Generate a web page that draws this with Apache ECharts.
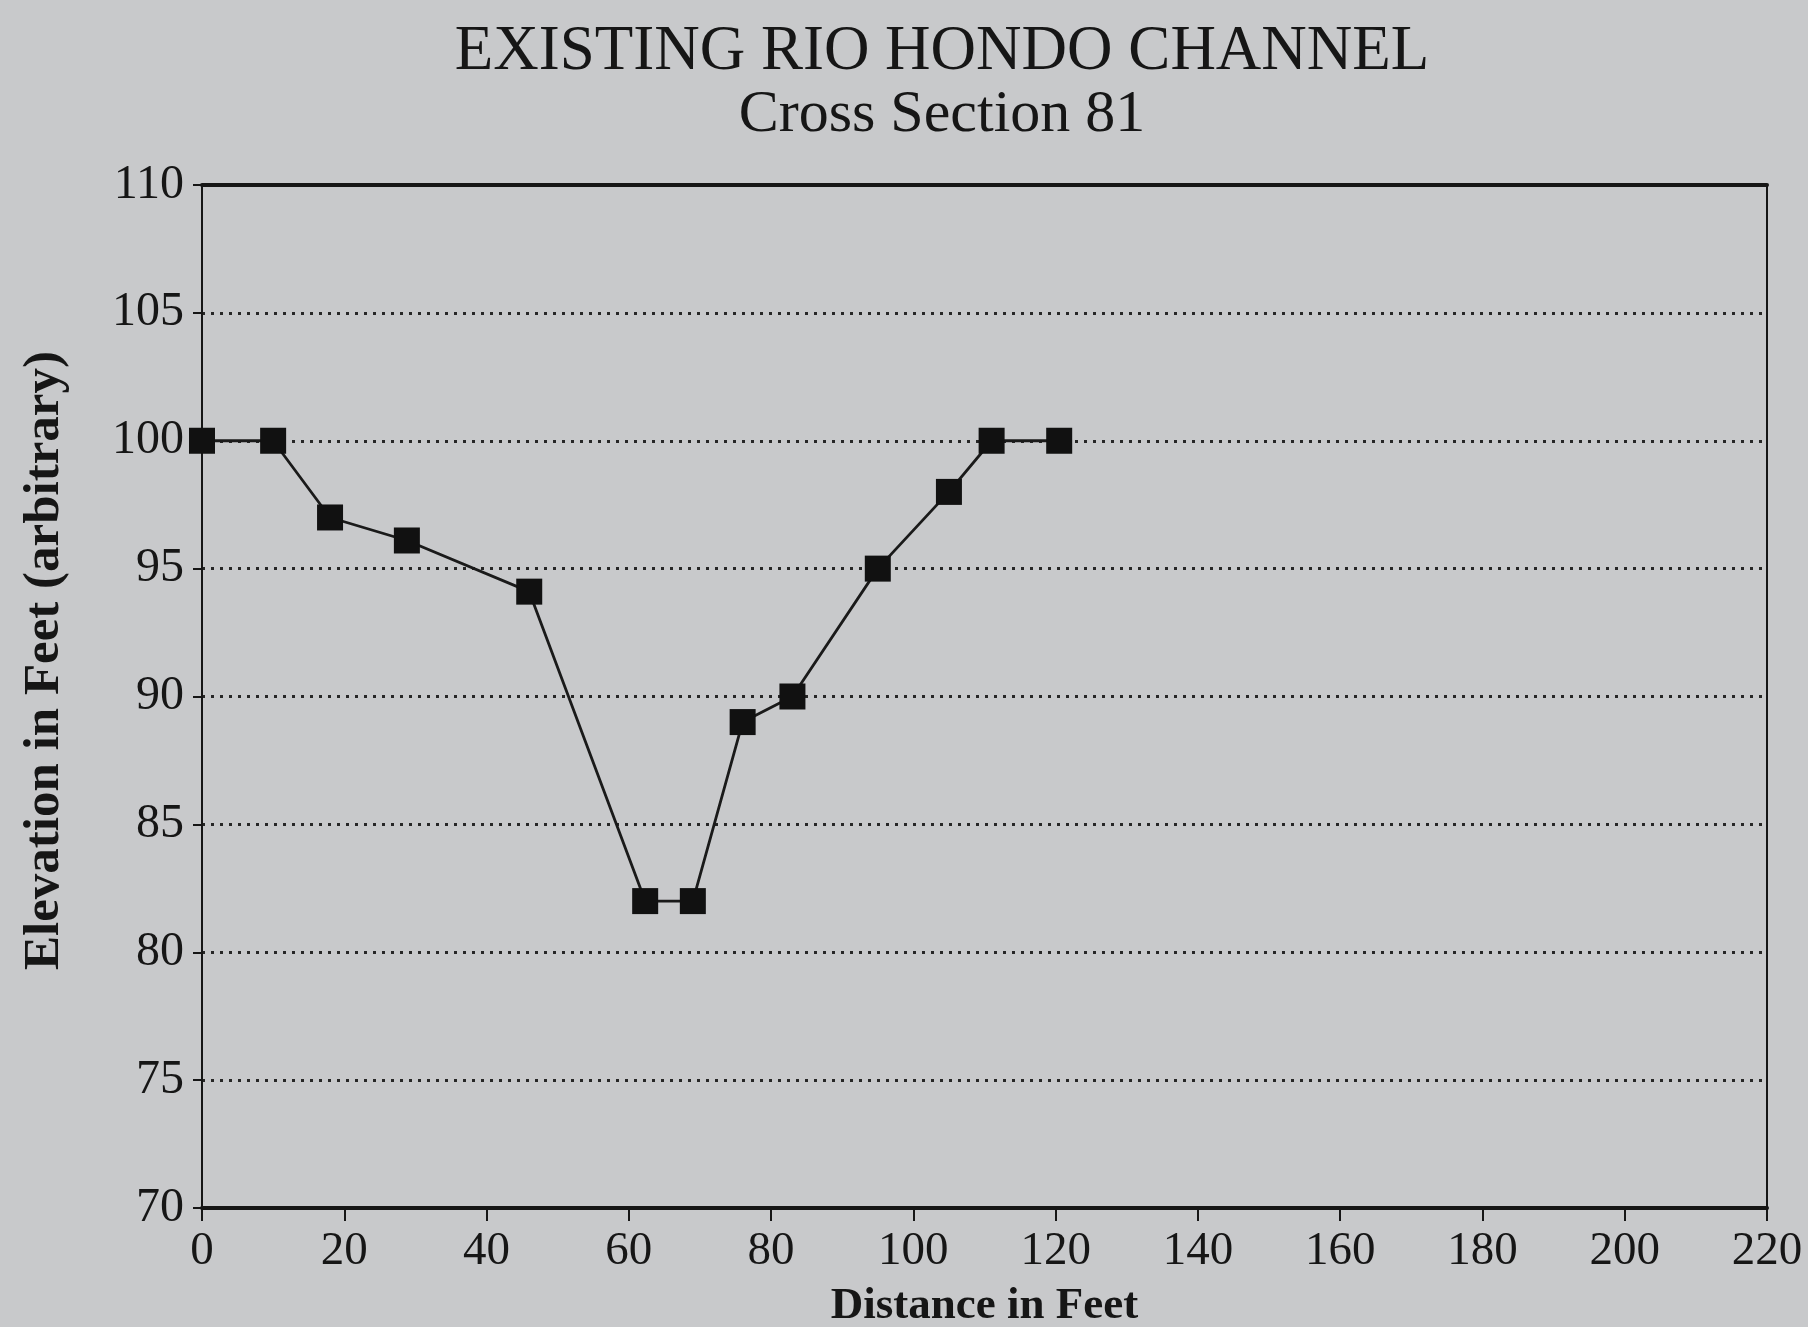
<!DOCTYPE html>
<html>
<head>
<meta charset="utf-8">
<title>Existing Rio Hondo Channel - Cross Section 81</title>
<script src="https://cdn.jsdelivr.net/npm/echarts@6/dist/echarts.min.js"></script>
<style>
  html, body { margin: 0; padding: 0; background: #c8c9cb; }
  #chart { width: 1808px; height: 1327px; }
</style>
</head>
<body>
<div id="chart"></div>
<script>
const distance = [0, 10, 18, 28.8, 46, 62.3, 69, 76, 83, 95, 105, 111, 120.5];
const elevation = [100, 100, 97, 96.1, 94.1, 82, 82, 89, 90, 95, 98, 100, 100];

const titleText = 'EXISTING RIO HONDO CHANNEL';
const subtitleText = 'Cross Section 81';

const serif = '"Liberation Serif", "DejaVu Serif", serif';
const ink = '#161616';

const chart = echarts.init(document.getElementById('chart'), null, { renderer: 'canvas' });

const points = distance.map((d, i) => [d, elevation[i]]);

chart.setOption({
  backgroundColor: '#c8c9cb',
  animation: false,
  title: [
    {
      text: titleText,
      left: 937, top: 16, textAlign: 'center',
      textStyle: { fontFamily: serif, fontWeight: 'normal', fontSize: 63, color: ink }
    },
    {
      text: subtitleText,
      left: 937, top: 80, textAlign: 'center',
      textStyle: { fontFamily: serif, fontWeight: 'normal', fontSize: 60, color: ink }
    }
  ],
  // fixed plot box; don't let v6 shrink it to fit the axis names
  grid: { left: 202, right: 41, top: 185, bottom: 119, outerBoundsMode: 'none' },
  xAxis: [
    {
      type: 'value', min: 0, max: 220, interval: 20,
      name: 'Distance in Feet', nameLocation: 'middle', nameGap: 76,
      nameTextStyle: { fontFamily: serif, fontWeight: 'bold', fontSize: 45, color: ink },
      axisLine: { show: true, onZero: false, lineStyle: { color: ink, width: 4 } },
      axisTick: { show: true, inside: false, length: 13, lineStyle: { color: ink, width: 2 } },
      axisLabel: { margin: 20, fontFamily: serif, fontSize: 47, color: ink },
      splitLine: { show: false }
    },
    {
      // top frame line
      type: 'value', position: 'top', min: 0, max: 220,
      axisLine: { show: true, onZero: false, lineStyle: { color: ink, width: 4 } },
      axisTick: { show: false }, axisLabel: { show: false }, splitLine: { show: false }
    }
  ],
  yAxis: [
    {
      type: 'value', min: 70, max: 110, interval: 5,
      name: 'Elevation in Feet (arbitrary)', nameLocation: 'middle', nameGap: 132,
      nameTextStyle: { fontFamily: serif, fontWeight: 'bold', fontSize: 51, color: ink, padding: [0, 0, 0, 72] },
      axisLine: { show: true, onZero: false, lineStyle: { color: ink, width: 2 } },
      axisTick: { show: true, inside: false, length: 9, lineStyle: { color: ink, width: 2 } },
      axisLabel: { margin: 18, fontFamily: serif, fontSize: 48, color: ink },
      splitLine: { show: true, lineStyle: { color: '#262626', width: 3, type: [3, 6] } }
    },
    {
      // right frame line
      type: 'value', position: 'right', min: 70, max: 110,
      axisLine: { show: true, onZero: false, lineStyle: { color: ink, width: 2 } },
      axisTick: { show: false }, axisLabel: { show: false }, splitLine: { show: false }
    }
  ],
  series: [
    {
      type: 'line',
      data: points,
      symbol: 'rect',
      symbolSize: 26,
      itemStyle: { color: '#111' },
      lineStyle: { color: '#1a1a1a', width: 2.8 },
      z: 5
    }
  ]
});
</script>
</body>
</html>
